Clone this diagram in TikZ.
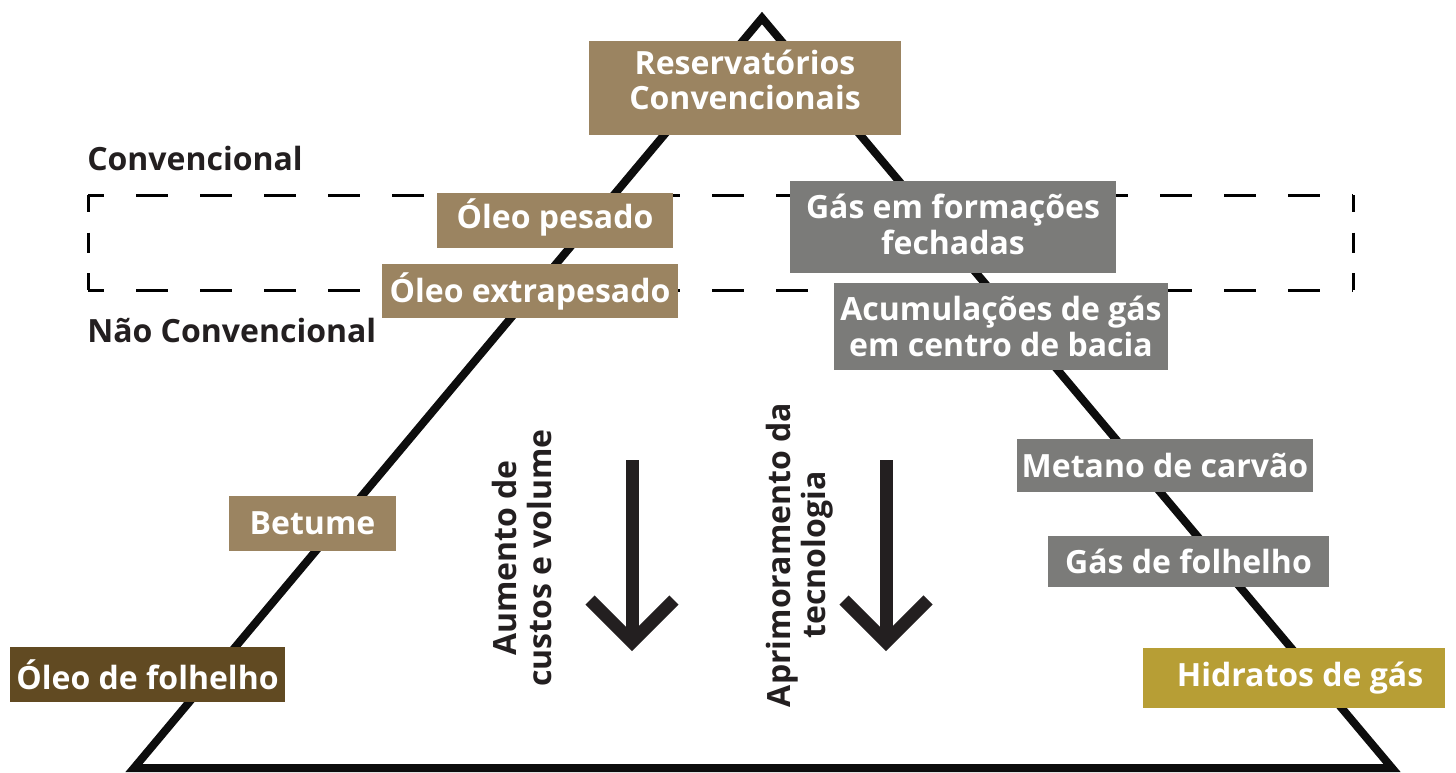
\documentclass[tikz,border=0pt]{standalone}
\usepackage{fontspec}
\setmainfont{Open Sans}
\definecolor{tan}{HTML}{9B8461}
\definecolor{grayb}{HTML}{7B7B79}
\definecolor{darkb}{HTML}{614A22}
\definecolor{gold}{HTML}{B79E35}
\definecolor{ink}{HTML}{231F20}
\begin{document}
\begin{tikzpicture}[x=0.75pt,y=-0.75pt,
  lbl/.style={font=\fontsize{24}{26.5}\selectfont\bfseries},
  box/.style={lbl,text=white,inner sep=0pt,align=center},
  side/.style={lbl,text=ink,anchor=west,inner sep=0pt},
  tri/.style={line width=6pt,draw=black!95,line join=miter},
  dashh/.style={line width=2.25pt,dash pattern=on 24pt off 24pt,dash phase=12pt},
  dashv/.style={line width=2.25pt,dash pattern=on 12.75pt off 15.4pt on 15pt off 15.4pt on 12.75pt off 20pt},
  bigarrow/.style={line width=9.75pt,draw=ink,line join=miter}]
\useasboundingbox[fill=white] (0,0) rectangle (1456,772);
% triangle
\coordinate (apex) at (762,18);
\coordinate (bl) at (134,768);
\coordinate (br) at (1392,768);
\draw[tri] (apex) -- (bl) -- (br) -- cycle;
% dashed band
\coordinate (dtl) at (88,195);
\coordinate (dtr) at (1353,195);
\coordinate (dbl) at (88,290);
\coordinate (dbr) at (1353,290);
\draw[dashh] (dtl) -- (dtr);
\draw[dashh] (dbl) -- (dbr);
\draw[dashv] (dtl) -- (dbl);
\draw[dashv] (dtr) -- (dbr);
% side labels
\node[side] (conv) at (87,158) {Convencional};
\node[side] (nconv) at (87,330) {Não Convencional};
% boxes
\node[box,fill=tan,minimum width=234pt,minimum height=70.5pt] (resbox) at (745,88) {};
\node[box] (res) at (745,80) {Reservatórios\\Convencionais};
\node[box,fill=tan,minimum width=177pt,minimum height=41.25pt] (opbox) at (555,220.5) {};
\node[box] (op) at (555,217) {Óleo pesado};
\node[box,fill=tan,minimum width=222pt,minimum height=40.5pt] (oe) at (530,291) {Óleo extrapesado};
\node[box,fill=grayb,minimum width=244.5pt,minimum height=69pt] (gfbox) at (953,227) {};
\node[box] (gf) at (953,224.5) {Gás em formações\\fechadas};
\node[box,fill=grayb,minimum width=250.5pt,minimum height=65.25pt] (ac) at (1001,326.5) {Acumulações de gás\\em centro de bacia};
\node[box,fill=grayb,minimum width=222pt,minimum height=39.75pt] (mc) at (1165,465.5) {Metano de carvão};
\node[box,fill=grayb,minimum width=210.75pt,minimum height=38.25pt] (gfo) at (1188.5,561.5) {Gás de folhelho};
\node[box,fill=gold,minimum width=226.5pt,minimum height=45pt] (hg) at (1294,678) {\hspace{9pt}Hidratos de gás};
\node[box,fill=tan,minimum width=125.25pt,minimum height=41.25pt] (bet) at (312.5,523.5) {Betume};
\node[box,fill=darkb,minimum width=206.25pt,minimum height=41.25pt] (of) at (147.5,674.5) {Óleo de folhelho};
% rotated texts
\node[lbl,text=ink,rotate=90,align=center,inner sep=0pt] (t1) at (522,558) {Aumento de\\custos e volume};
\node[lbl,text=ink,rotate=90,align=center,inner sep=0pt] (t2) at (800,555) {Aprimoramento da\\tecnologia};
% arrows
\coordinate (a1s) at (632,460);
\coordinate (a1t) at (632,642);
\coordinate (a1l) at (590,600);
\coordinate (a1r) at (674,600);
\draw[bigarrow] (a1s) -- (a1t);
\draw[bigarrow] (a1l) -- (a1t) -- (a1r);
\coordinate (a2s) at (886,460);
\coordinate (a2t) at (886,642);
\coordinate (a2l) at (844,600);
\coordinate (a2r) at (928,600);
\draw[bigarrow] (a2s) -- (a2t);
\draw[bigarrow] (a2l) -- (a2t) -- (a2r);
\end{tikzpicture}
\end{document}
